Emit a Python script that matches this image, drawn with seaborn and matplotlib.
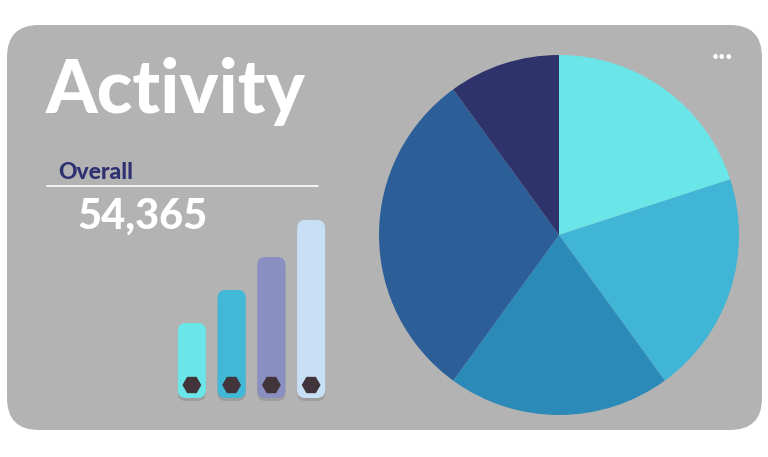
import numpy as np
import pandas as pd
import matplotlib
matplotlib.use("Agg")
import matplotlib.pyplot as plt
from matplotlib import font_manager as fm
from matplotlib.patches import FancyBboxPatch
import seaborn as sns

# data
bar_labels = ["A", "B", "C", "D"]
bar_values = [75, 108, 141, 178]
bar_colors = ["#6AE5E8", "#40B8D6", "#8A8FC2", "#C8E0F6"]

pie_labels = ["S1", "S2", "S3", "S4", "S5"]
pie_values = [20, 20, 20, 30, 10]
pie_colors = ["#6AE5E8", "#40B5D5", "#2C8AB8", "#2C5F97", "#2F336B"]

title = "Activity"
sub_title = "Overall"
total_text = "54,365"

sns.set_theme(style="white")
plt.rcParams["font.family"] = ["Lato", "DejaVu Sans"]


def heavy_font(size):
    # pick the Lato Black file directly, weight lookup alone lands on Bold
    for f in fm.fontManager.ttflist:
        if f.name == "Lato" and f.weight == 900 and f.style == "normal":
            return fm.FontProperties(fname=f.fname, size=size)
    return fm.FontProperties(family="Lato", weight="black", size=size)


W, H = 768, 457
fig = plt.figure(figsize=(W / 100, H / 100), dpi=100)
fig.patch.set_facecolor("white")

# card background, pixel coords
bg = fig.add_axes([0, 0, 1, 1], zorder=0)
bg.set_xlim(0, W)
bg.set_ylim(H, 0)
bg.axis("off")
bg.add_patch(FancyBboxPatch((7, 25), 755, 405,
                            boxstyle="round,pad=0,rounding_size=32",
                            fc="#B3B3B3", ec="none"))

bg.text(46, 113, title, color="white", fontproperties=heavy_font(53),
        va="baseline", ha="left")
bg.text(58, 179, sub_title, color="#2E3172", fontproperties=heavy_font(16.5),
        va="baseline", ha="left")
bg.plot([47, 318], [186, 186], color="white", lw=1.2)
bg.text(77, 229, total_text, color="white", fontproperties=heavy_font(30),
        va="baseline", ha="left")
bg.text(722, 57, "•••", color="white", fontsize=9, ha="center", va="center")

# rounded bars
bx = fig.add_axes([172 / W, (H - 408) / H, 159 / W, 200 / H], zorder=2)
bx.patch.set_alpha(0)
df = pd.DataFrame({"cat": bar_labels, "val": bar_values})
sns.barplot(data=df, x="cat", y="val", hue="cat", palette=bar_colors,
            width=0.705, legend=False, ax=bx)
bx.set_xlim(-0.5, 3.5)
bx.set_ylim(-10, 190)
px_per_x = 159 / 4.0
for bar, col in zip(list(bx.patches), bar_colors):
    x, w, h = bar.get_x(), bar.get_width(), bar.get_height()
    bar.set_visible(False)
    # soft shadow
    bx.add_patch(FancyBboxPatch((x, -3), w, h, boxstyle="round,pad=0,rounding_size=0.2",
                                mutation_aspect=px_per_x, fc="#8F8F8F", ec="none",
                                alpha=0.6, zorder=1))
    bx.add_patch(FancyBboxPatch((x, 0), w, h, boxstyle="round,pad=0,rounding_size=0.2",
                                mutation_aspect=px_per_x, fc=col, ec="none", zorder=2))
knob_level = 13
sns.scatterplot(x=np.arange(len(bar_labels)), y=[knob_level] * len(bar_labels),
                marker="H", s=185, color="#41353B", edgecolor="none", zorder=3, ax=bx)
bx.axis("off")

# pie
R = 180
pax = fig.add_axes([(559 - R) / W, (H - 235 - R) / H, 2 * R / W, 2 * R / H], zorder=2)
pax.pie(pie_values, colors=pie_colors, startangle=90, counterclock=False,
        wedgeprops=dict(linewidth=0))
pax.set_xlim(-1, 1)
pax.set_ylim(-1, 1)
pax.set_aspect("equal")
pax.axis("off")

fig.savefig("out.png", dpi=100, facecolor="white")
